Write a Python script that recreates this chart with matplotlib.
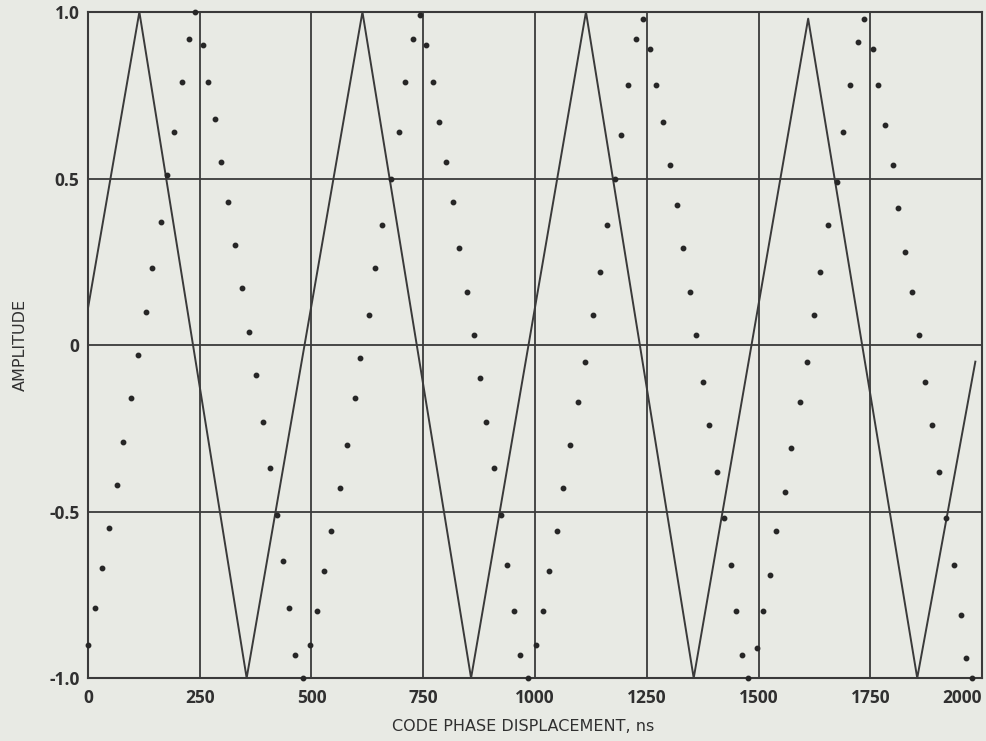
import matplotlib
matplotlib.use("Agg")
import matplotlib.pyplot as plt

# solid trace: corner points (ns, amplitude)
line_ns = [0, 115, 355, 614, 857, 1114, 1355, 1611, 1855, 1985]
line_amp = [0.11, 1.0, -1.0, 1.0, -1.0, 1.0, -1.0, 0.98, -1.0, -0.05]

# dotted trace: every sample point
dot_ns = [0, 16, 31, 46, 66, 79, 96, 113, 130, 144, 163, 177, 193, 210, 226, 240,
          258, 269, 284, 298, 314, 329, 345, 360, 376, 392, 407, 422, 436, 450, 463, 480,
          497, 513, 529, 544, 563, 579, 598, 609, 629, 642, 657, 677, 695, 709, 727, 742,
          757, 771, 786, 800, 816, 831, 847, 863, 878, 891, 908, 924, 937, 952, 966, 985,
          1002, 1018, 1032, 1049, 1063, 1078, 1097, 1112, 1129, 1145, 1160, 1178, 1192, 1208, 1225, 1241,
          1258, 1270, 1286, 1301, 1318, 1331, 1346, 1360, 1375, 1390, 1407, 1423, 1438, 1449, 1464, 1476,
          1497, 1509, 1526, 1540, 1559, 1573, 1593, 1608, 1624, 1638, 1656, 1676, 1690, 1704, 1722, 1737,
          1755, 1767, 1783, 1800, 1812, 1828, 1844, 1859, 1873, 1889, 1904, 1920, 1937, 1953, 1965, 1978]
dot_amp = [-0.90, -0.79, -0.67, -0.55, -0.42, -0.29, -0.16, -0.03, 0.10, 0.23, 0.37, 0.51, 0.64, 0.79, 0.92, 1.0,
           0.90, 0.79, 0.68, 0.55, 0.43, 0.30, 0.17, 0.04, -0.09, -0.23, -0.37, -0.51, -0.65, -0.79, -0.93, -1.0,
           -0.90, -0.80, -0.68, -0.56, -0.43, -0.30, -0.16, -0.04, 0.09, 0.23, 0.36, 0.50, 0.64, 0.79, 0.92, 0.99,
           0.90, 0.79, 0.67, 0.55, 0.43, 0.29, 0.16, 0.03, -0.10, -0.23, -0.37, -0.51, -0.66, -0.80, -0.93, -1.0,
           -0.90, -0.80, -0.68, -0.56, -0.43, -0.30, -0.17, -0.05, 0.09, 0.22, 0.36, 0.50, 0.63, 0.78, 0.92, 0.98,
           0.89, 0.78, 0.67, 0.54, 0.42, 0.29, 0.16, 0.03, -0.11, -0.24, -0.38, -0.52, -0.66, -0.80, -0.93, -1.0,
           -0.91, -0.80, -0.69, -0.56, -0.44, -0.31, -0.17, -0.05, 0.09, 0.22, 0.36, 0.49, 0.64, 0.78, 0.91, 0.98,
           0.89, 0.78, 0.66, 0.54, 0.41, 0.28, 0.16, 0.03, -0.11, -0.24, -0.38, -0.52, -0.66, -0.81, -0.94, -1.0]

x_ticks = [0, 250, 500, 750, 1000, 1250, 1500, 1750, 2000]
y_ticks = [-1.0, -0.5, 0, 0.5, 1.0]
y_tick_labels = ['-1.0', '-0.5', '0', '0.5', '1.0']

paper = '#e8eae4'
ink = '#3a3a3a'
plt.rcParams['font.family'] = ['Open Sans', 'DejaVu Sans']

fig = plt.figure(figsize=(9.86, 7.41), dpi=100, facecolor=paper)
ax = fig.add_axes([0.0892, 0.085, 0.9068, 0.8988], facecolor=paper)

ax.plot(line_ns, line_amp, color=ink, lw=1.4, zorder=3)
ax.plot(dot_ns, dot_amp, ls='none', marker='o', ms=3.2, color='#262626', zorder=4, clip_on=False)

ax.set_xlim(0, 2000)
ax.set_ylim(-1.0, 1.0)
ax.set_xticks(x_ticks)
ax.set_yticks(y_ticks)
ax.set_yticklabels(y_tick_labels)
ax.grid(True, color=ink, lw=1.3)
ax.set_axisbelow(True)
for s in ax.spines.values():
    s.set_color(ink)
    s.set_linewidth(1.5)

ax.tick_params(length=0, labelsize=12.5, labelcolor='#303030')
ax.tick_params(axis='y', pad=6)
ax.tick_params(axis='x', pad=8)
for lab in ax.get_xticklabels() + ax.get_yticklabels():
    lab.set_fontweight('bold')
ax.get_xticklabels()[-1].set_horizontalalignment('right')

fig.text(0.021, 0.535, 'AMPLITUDE', rotation=90, ha='center', va='center',
         fontsize=11.5, family='DejaVu Sans', color='#303030')
fig.text(0.531, 0.02, 'CODE PHASE DISPLACEMENT, ns', ha='center', va='center',
         fontsize=11.5, family='DejaVu Sans', color='#303030')

fig.savefig('out.png', dpi=100, facecolor=paper)
